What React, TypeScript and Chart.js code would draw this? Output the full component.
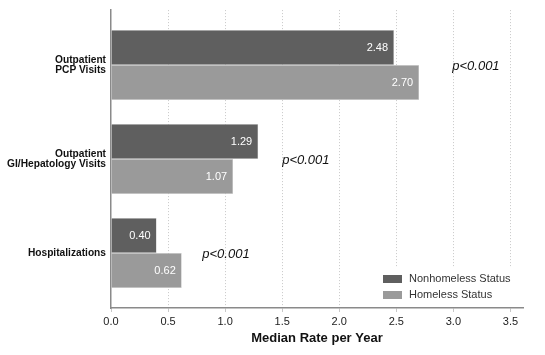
import React, { useEffect, useRef } from "react";
import { Chart, registerables } from "chart.js";

Chart.register(...registerables);

const categories: string[][] = [
  ["Outpatient", "PCP Visits"],
  ["Outpatient", "GI/Hepatology Visits"],
  ["Hospitalizations"],
];
const nonhomeless: number[] = [2.48, 1.29, 0.4];
const homeless: number[] = [2.7, 1.07, 0.62];
const seriesLabels: string[] = ["Nonhomeless Status", "Homeless Status"];
const pLabels: string[] = ["p<0.001", "p<0.001", "p<0.001"];
const pPositions: number[] = [2.99, 1.5, 0.8];
const xTicks: number[] = [0, 0.5, 1, 1.5, 2, 2.5, 3, 3.5];

const DARK = "#5f5f5f";
const LIGHT = "#9a9a9a";
const FONT = "'Liberation Sans', Arial, Helvetica, sans-serif";

const annotations = {
  id: "annotations",
  afterDatasetsDraw(chart: any) {
    const ctx = chart.ctx;
    const xs = chart.scales.x;
    const ys = chart.scales.y;
    ctx.save();
    ctx.font = `11px ${FONT}`;
    ctx.fillStyle = "#ffffff";
    ctx.textAlign = "right";
    ctx.textBaseline = "middle";
    chart.data.datasets.forEach((ds: any, di: number) => {
      const meta = chart.getDatasetMeta(di);
      meta.data.forEach((bar: any, i: number) => {
        const v = ds.data[i].x;
        ctx.fillText(v.toFixed(2), bar.x - 6, bar.y);
      });
    });
    ctx.font = `italic 13px ${FONT}`;
    ctx.fillStyle = "#111111";
    ctx.textAlign = "left";
    pLabels.forEach((t, i) => {
      ctx.fillText(t, xs.getPixelForValue(pPositions[i]), ys.getPixelForValue(i) + 1);
    });
    ctx.restore();
  },
  afterDraw(chart: any) {
    const ctx = chart.ctx;
    const area = chart.chartArea;
    ctx.save();
    const left = 375;
    const top = 268;
    ctx.fillStyle = "#ffffff";
    ctx.fillRect(left, top, area.right - left, area.bottom - top - 1);
    ctx.font = `11px ${FONT}`;
    ctx.textAlign = "left";
    ctx.textBaseline = "middle";
    chart.data.datasets.forEach((ds: any, i: number) => {
      const cy = 279 + i * 16;
      ctx.fillStyle = ds.backgroundColor;
      ctx.fillRect(383, cy - 4, 19, 8);
      ctx.fillStyle = "#333333";
      ctx.fillText(ds.label, 409, cy);
    });
    ctx.restore();
  },
};

export default function App() {
  const ref = useRef<HTMLCanvasElement | null>(null);
  useEffect(() => {
    if (!ref.current) return;
    const chart = new Chart(ref.current, {
      type: "bar",
      data: {
        datasets: [
          {
            label: seriesLabels[0],
            data: nonhomeless.map((v, i) => ({ x: v, y: i })),
            backgroundColor: DARK,
            borderColor: "#d8d8d8",
            borderWidth: 0.5,
            barPercentage: 1,
            categoryPercentage: 0.745,
          },
          {
            label: seriesLabels[1],
            data: homeless.map((v, i) => ({ x: v, y: i })),
            backgroundColor: LIGHT,
            borderColor: "#d8d8d8",
            borderWidth: 0.5,
            barPercentage: 1,
            categoryPercentage: 0.745,
          },
        ],
      },
      options: {
        indexAxis: "y",
        animation: false,
        responsive: false,
        maintainAspectRatio: false,
        layout: { padding: { top: 10, right: 22, left: 0, bottom: 9 } },
        plugins: { legend: { display: false }, tooltip: { enabled: false } },
        scales: {
          y: {
            type: "linear",
            reverse: true,
            offset: false,
            min: -0.585,
            max: 2.585,
            afterBuildTicks: (scale: any) => {
              scale.ticks = categories.map((_, i) => ({ value: i }));
            },
            afterFit: (scale: any) => {
              scale.width = 111;
            },
            grid: { display: false, drawTicks: false, offset: false },
            border: { display: true, color: "#8a8a8a", width: 1.5 },
            ticks: {
              padding: 5,
              autoSkip: false,
              color: "#111111",
              font: { family: FONT, size: 10.2, weight: "bold", lineHeight: 1.0 },
              callback: (v: any) => categories[Math.round(Number(v))],
            },
          },
          x: {
            type: "linear",
            min: 0,
            max: 3.61,
            afterBuildTicks: (scale: any) => {
              scale.ticks = xTicks.map((v) => ({ value: v }));
            },
            afterFit: (scale: any) => {
              scale.height = 38;
            },
            grid: {
              color: (c: any) => (c.tick && c.tick.value === 0 ? "rgba(0,0,0,0)" : "#c8c8c8"),
              lineWidth: 1,
              tickLength: 4,
              tickColor: "#c8c8c8",
              tickBorderDash: [],
            },
            border: { display: true, color: "#8a8a8a", width: 1.5, dash: [1, 2] },
            ticks: {
              padding: 3,
              color: "#222222",
              font: { family: FONT, size: 11 },
              callback: (v: any) => Number(v).toFixed(1),
            },
            title: {
              display: true,
              text: "Median Rate per Year",
              color: "#111111",
              font: { family: FONT, size: 13, weight: "bold" },
              padding: { top: 4, bottom: 0 },
            },
          },
        },
      },
      plugins: [annotations],
    } as any);
    return () => chart.destroy();
  }, []);
  return (
    <div style={{ position: "fixed", left: 0, top: 0, width: 545, height: 355, background: "#fff" }}>
      <canvas ref={ref} width={545} height={355} style={{ width: 545, height: 355 }} />
    </div>
  );
}
